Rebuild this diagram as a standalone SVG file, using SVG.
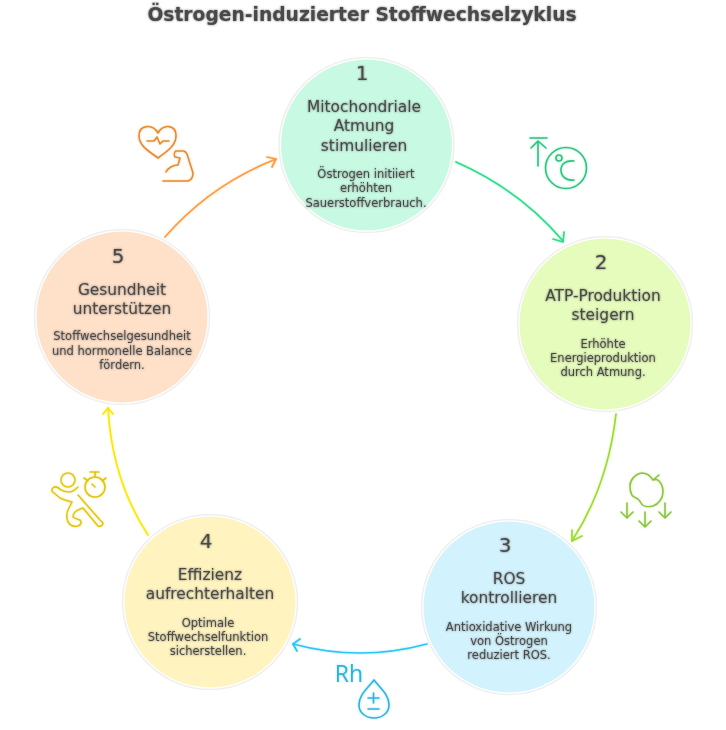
<svg xmlns="http://www.w3.org/2000/svg" width="726" height="730" viewBox="0 0 726 730">
<style>
text{font-family:"DejaVu Sans","Liberation Sans",sans-serif;fill:#4a4a4a;text-anchor:middle;filter:url(#tg)}
.t{font-size:18.7px;font-weight:bold}
.n{font-size:20px}
.h{font-size:15.4px}
.b{font-size:11.5px}
.ring{stroke:#efefef;stroke-width:1.5;fill:#fff}
.c{fill:none;stroke-width:1.7;stroke-linecap:round;stroke-linejoin:round;filter:url(#g)}
.i{fill:none;stroke-width:1.6;stroke-linecap:round;stroke-linejoin:round;filter:url(#g)}
.rh{font-family:"Open Sans","Liberation Sans",sans-serif;font-size:23px;font-weight:400;fill:#2cb4e0;filter:none;stroke:none}
</style>
<defs>
<filter id="tg" x="-10%" y="-30%" width="120%" height="160%"><feGaussianBlur in="SourceAlpha" stdDeviation="1.3" result="b"/><feFlood flood-color="#4a4a4a" flood-opacity=".75"/><feComposite in2="b" operator="in"/><feMerge><feMergeNode/><feMergeNode in="SourceGraphic"/></feMerge></filter>
<filter id="g" x="-20%" y="-20%" width="140%" height="140%"><feGaussianBlur in="SourceGraphic" stdDeviation="1.2" result="b"/><feComponentTransfer in="b" result="p"><feFuncA type="linear" slope=".4"/></feComponentTransfer><feMerge><feMergeNode in="p"/><feMergeNode in="SourceGraphic"/></feMerge></filter>
</defs>
<rect width="726" height="730" fill="#fff"/>
<text class="t" x="362" y="21">Östrogen-induzierter Stoffwechselzyklus</text>
<g id="connectors">
<g stroke="#2ddc8a" class="c"><path d="M456 162Q520 190 563 241"/><path d="M553 239L563 242L564 232"/></g>
<g stroke="#9bdc2e" class="c"><path d="M616 414Q608 485 572 541"/><path d="M572 530L572 541L582 536"/></g>
<g stroke="#2cc4f5" class="c"><path d="M427 644Q360 662 293 644"/><path d="M300 639L293 644L297 651"/></g>
<g stroke="#ffe600" class="c"><path d="M148 535Q112 480 108 408"/><path d="M103 414L108 408L113 414"/></g>
<g stroke="#ff9a3c" class="c"><path d="M165 237Q210 185 276 159"/><path d="M267 157L276 159L272 167"/></g>
</g>
<g id="node-1"><circle class="ring" cx="366.500" cy="145" r="87.500"/><circle cx="366.500" cy="145" r="85.500" fill="#c8fae3"/>
<text class="n" x="362" y="80">1</text>
<text class="h" x="364" y="112">Mitochondriale</text><text class="h" x="364" y="131">Atmung</text><text class="h" x="364" y="151">stimulieren</text>
<text class="b" x="366" y="178">Östrogen initiiert</text><text class="b" x="366" y="192">erhöhten</text><text class="b" x="366" y="207">Sauerstoffverbrauch.</text></g>
<g id="node-2"><circle class="ring" cx="605" cy="324" r="87.500"/><circle cx="605" cy="324" r="85.500" fill="#e6fcbc"/>
<text class="n" x="601" y="269">2</text>
<text class="h" x="603" y="301">ATP-Produktion</text><text class="h" x="603" y="320">steigern</text>
<text class="b" x="603" y="348">Erhöhte</text><text class="b" x="603" y="362">Energieproduktion</text><text class="b" x="603" y="376">durch Atmung.</text></g>
<g id="node-3"><circle class="ring" cx="509" cy="607" r="87.500"/><circle cx="509" cy="607" r="85.500" fill="#d2f3fd"/>
<text class="n" x="505" y="552">3</text>
<text class="h" x="509" y="584">ROS</text><text class="h" x="509" y="603">kontrollieren</text>
<text class="b" x="509" y="631">Antioxidative Wirkung</text><text class="b" x="509" y="645">von Östrogen</text><text class="b" x="509" y="659">reduziert ROS.</text></g>
<g id="node-4"><circle class="ring" cx="210" cy="602" r="87.500"/><circle cx="210" cy="602" r="85.500" fill="#fff4bf"/>
<text class="n" x="206" y="548">4</text>
<text class="h" x="210" y="580">Effizienz</text><text class="h" x="210" y="599">aufrechterhalten</text>
<text class="b" x="208" y="627">Optimale</text><text class="b" x="208" y="641">Stoffwechselfunktion</text><text class="b" x="208" y="655">sicherstellen.</text></g>
<g id="node-5"><circle class="ring" cx="122" cy="317" r="87.500"/><circle cx="122" cy="317" r="85.500" fill="#ffe0c8"/>
<text class="n" x="118" y="263">5</text>
<text class="h" x="122" y="295">Gesundheit</text><text class="h" x="122" y="314">unterstützen</text>
<text class="b" x="122" y="340">Stoffwechselgesundheit</text><text class="b" x="122" y="355">und hormonelle Balance</text><text class="b" x="122" y="369">fördern.</text></g>
<g id="icon-1" stroke="#2cc47c" class="i"><path d="M530 138H547M538 142V166M531 148L538 141L546 148"/><circle cx="566" cy="168" r="20.500"/><circle cx="559" cy="158" r="3"/><path d="M574 161C566 160 561 164 561 170C561 177 567 181 574 180"/></g>
<g id="icon-2" stroke="#8cc63f" class="i"><path d="M653 480C650 475 646 473 642 473C635 474 630 480 630 486C630 492 632 497 636 498C639 499 640 501 641 503C643 507 649 507 653 506C659 504 663 498 663 492C663 487 661 483 659 481C657 479 655 479 653 480ZM653 480L659 475"/><path d="M627 503V517M621 512L627 518L633 512M645 512V527M639 521L645 527L651 521M665 503V517M659 512L665 518L671 512"/></g>
<g id="icon-3" stroke="#2cb4e0" class="i"><path d="M374 680C367 689 359 695 359 705C359 713 366 718 374 718C382 718 389 713 389 705C389 695 381 689 374 680Z"/><path d="M368 698H379M373.500 693V703M368 709H379"/><text class="rh" x="349" y="682">Rh</text></g>
<g id="icon-4" stroke="#e3c60f" class="i"><circle cx="68" cy="480" r="7"/><path d="M78 487C75 490 72 492 69 492C66 492 63 491 61 490C58 487 55 486 53 488C51 490 52 492 54 493L60 498C64 500 68 501 72 502L68 510C66 514 67 519 68 522C70 525 74 527 78 526C81 525 82 522 80 520C78 519 75 519 73 517C73 515 74 513 75 512C77 510 80 509 83 508L98 526C100 527 103 526 103 523L100 520L78 495"/><circle cx="95" cy="487" r="10"/><path d="M90 472H99M95 472V477M84 478L88 481M106 478L102 481M95 487L92 484"/></g>
<g id="icon-5" stroke="#e88a2e" class="i"><path d="M158 158C150 152 139 146 139 136C139 124 153 124 158 133C163 124 176 124 176 136C176 146 166 152 158 158Z"/><path d="M147 141H154L157 137L160 144L163 141H169"/><path d="M163 181H188C191 180 193 177 193 173L187 154C186 152 185 151 183 151L176 151C174 152 174 155 175 157L180 158L178 165C173 165 168 168 166 172"/></g>
</svg>
